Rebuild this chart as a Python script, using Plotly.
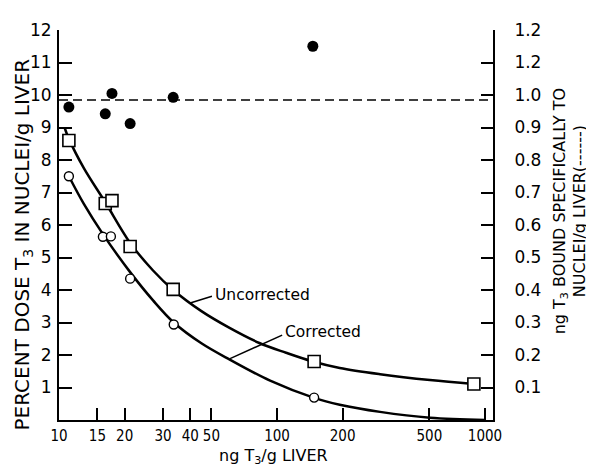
import plotly.graph_objects as go
import math

# Filled circles: total binding (right axis scale x10 shown on left axis units)
total_x = [11.1, 16.3, 17.5, 21.2, 33.4, 146]
total_y = [9.63, 9.42, 10.05, 9.12, 9.93, 11.5]
dashed_level = 9.85

# Uncorrected (open squares)
uncorr_x = [11.1, 16.3, 17.5, 21.2, 33.4, 148, 800]
uncorr_y = [8.6, 6.66, 6.75, 5.34, 4.02, 1.8, 1.11]
# Corrected (open circles)
corr_x = [11.1, 15.9, 17.3, 21.2, 33.6, 148]
corr_y = [7.5, 5.64, 5.65, 4.35, 2.94, 0.69]

# Fitted curves
uncorr_curve_x = [10.6, 11.1, 13, 16.3, 21.2, 27, 33.4, 45, 60, 83, 110, 146, 194, 297, 503, 800]
uncorr_curve_y = [9.0, 8.65, 7.75, 6.7, 5.45, 4.6, 4.0, 3.35, 2.85, 2.37, 2.07, 1.8, 1.6, 1.41, 1.23, 1.11]
corr_curve_x = [11.1, 13, 15.9, 21.2, 27, 33.6, 45, 61, 93, 148, 194, 297, 503, 900]
corr_curve_y = [7.5, 6.65, 5.72, 4.55, 3.68, 3.0, 2.36, 1.85, 1.21, 0.68, 0.47, 0.25, 0.07, 0.0]

x_tickvals = [10, 15, 20, 30, 40, 50, 100, 200, 500, 900]
x_ticktext = ["10", "15", "20", "30", "40", "50", "100", "200", "500", "1000"]
left_tickvals = [1, 2, 3, 4, 5, 6, 7, 8, 9, 10, 11, 12]
right_tickvals = [0.1, 0.2, 0.3, 0.4, 0.5, 0.6, 0.7, 0.8, 0.9, 1.0, 1.1, 1.2]
right_ticktext = ["0.1", "0.2", "0.3", "0.4", "0.5", "0.6", "0.7", "0.8", "0.9", "1.0", "1.2", "1.2"]

# leader lines for labels
uncorr_leader_x = [40, 50.3]
uncorr_leader_y = [3.6, 3.81]
corr_leader_x = [60.9, 105.6]
corr_leader_y = [1.89, 2.61]

FONT = "DejaVu Sans"
fig = go.Figure()

fig.add_trace(go.Scatter(x=[10, 980], y=[dashed_level, dashed_level], mode="lines",
                         line=dict(color="black", width=1.5, dash="9px,5px"), hoverinfo="skip"))
fig.add_trace(go.Scatter(x=uncorr_curve_x, y=uncorr_curve_y, mode="lines",
                         line=dict(color="black", width=2.5, shape="spline", smoothing=1.0)))
fig.add_trace(go.Scatter(x=corr_curve_x, y=corr_curve_y, mode="lines",
                         line=dict(color="black", width=2.5, shape="spline", smoothing=1.0)))
fig.add_trace(go.Scatter(x=uncorr_leader_x, y=uncorr_leader_y, mode="lines",
                         line=dict(color="black", width=1.5)))
fig.add_trace(go.Scatter(x=corr_leader_x, y=corr_leader_y, mode="lines",
                         line=dict(color="black", width=1.5)))
fig.add_trace(go.Scatter(x=uncorr_x, y=uncorr_y, mode="markers",
                         marker=dict(symbol="square", size=12, color="white",
                                     line=dict(color="black", width=1.6))))
fig.add_trace(go.Scatter(x=corr_x, y=corr_y, mode="markers",
                         marker=dict(symbol="circle", size=9, color="white",
                                     line=dict(color="black", width=1.4))))
fig.add_trace(go.Scatter(x=total_x, y=total_y, mode="markers",
                         marker=dict(symbol="circle", size=11, color="black")))
# invisible trace to activate right axis
fig.add_trace(go.Scatter(x=[10], y=[0.5], yaxis="y2", mode="markers",
                         marker=dict(opacity=0), hoverinfo="skip"))

# page body has an 8px margin, so the figure is 8px smaller and starts at (8, 8)
fig.update_layout(
    width=586, height=459,
    margin=dict(l=51, r=101, t=12, b=47),
    paper_bgcolor="white", plot_bgcolor="white",
    showlegend=False,
    font=dict(family=FONT, color="black"),
    xaxis=dict(type="log", range=[1, 1 + 434 / 218], tickvals=x_tickvals, ticktext=x_ticktext,
               ticks="inside", ticklen=12, tickwidth=2, tickcolor="black",
               showline=True, linecolor="black", linewidth=2, showgrid=False, zeroline=False,
               tickfont=dict(family="DejaVu Sans Condensed", size=15), ticklabelstandoff=1),
    yaxis=dict(range=[0, 12], tickvals=left_tickvals, ticks="inside", ticklen=13, tickwidth=2,
               tickcolor="black", showline=True, linecolor="black", linewidth=2,
               showgrid=False, zeroline=False, tickfont=dict(size=17), ticklabelstandoff=2),
    yaxis2=dict(range=[0, 1.2], overlaying="y", side="right", tickvals=right_tickvals,
                ticktext=right_ticktext, ticks="inside", ticklen=12, tickwidth=2, tickcolor="black",
                showline=True, linecolor="black", linewidth=2, showgrid=False, zeroline=False,
                tickfont=dict(size=17), ticklabelstandoff=16),
)

fig.add_annotation(text="Uncorrected", x=math.log10(50.9), y=3.84, xanchor="left", yanchor="middle",
                   showarrow=False, font=dict(size=15.5))
fig.add_annotation(text="Corrected", x=math.log10(106.6), y=2.7, xanchor="left", yanchor="middle",
                   showarrow=False, font=dict(size=15.5))
fig.add_annotation(text="PERCENT DOSE T<sub>3</sub> IN NUCLEI/g LIVER", xref="paper", yref="paper",
                   x=(22 - 59) / 434, y=(420 - 240) / 400, textangle=-90, showarrow=False,
                   xanchor="center", yanchor="middle", font=dict(size=20))
fig.add_annotation(text="ng T<sub>3</sub> BOUND SPECIFICALLY TO<br>NUCLEI/g LIVER(------)",
                   xref="paper", yref="paper", x=(570 - 59) / 434, y=(420 - 206) / 400,
                   textangle=-90, showarrow=False, xanchor="center", yanchor="middle",
                   font=dict(size=16))
fig.add_annotation(text="ng T<sub>3</sub>/g LIVER", xref="paper", yref="paper",
                   x=(273 - 59) / 434, y=-(457 - 420) / 400, showarrow=False,
                   xanchor="center", yanchor="middle", font=dict(size=16))

fig.write_html("out.html")
